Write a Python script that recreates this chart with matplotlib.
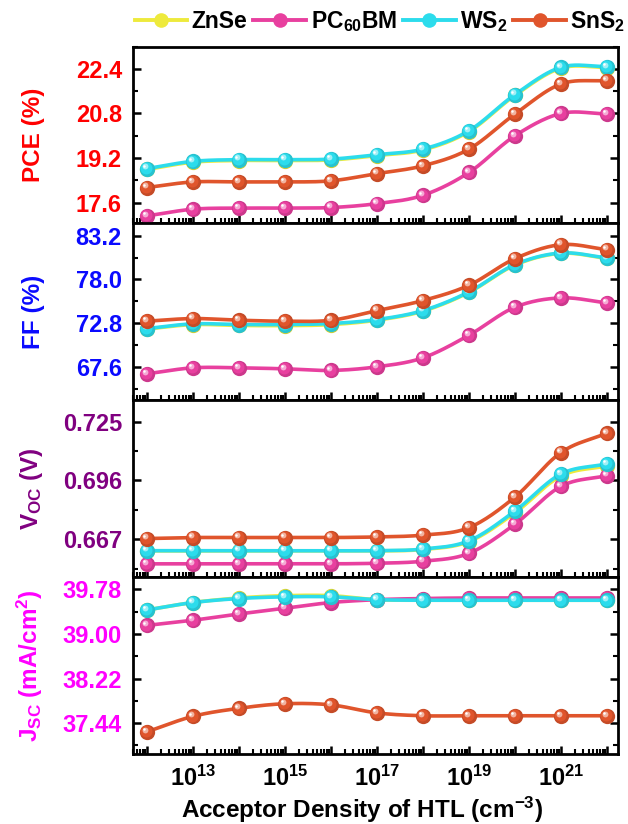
import numpy as np
import matplotlib
matplotlib.use("Agg")
import matplotlib.pyplot as plt
from matplotlib.ticker import (MultipleLocator, FuncFormatter, LogLocator,
                               NullFormatter, FormatStrFormatter)
from matplotlib.transforms import ScaledTranslation
from matplotlib.lines import Line2D

plt.rcParams["font.family"] = ["Liberation Sans", "DejaVu Sans"]
plt.rcParams["font.weight"] = "bold"
plt.rcParams["mathtext.fontset"] = "custom"
plt.rcParams["mathtext.rm"] = "Liberation Sans:bold"
plt.rcParams["mathtext.bf"] = "Liberation Sans:bold"
plt.rcParams["mathtext.it"] = "Liberation Sans:bold"
plt.rcParams["mathtext.default"] = "bf"

# ---------------- data ----------------
density = [1e12, 1e13, 1e14, 1e15, 1e16, 1e17, 1e18, 1e19, 1e20, 1e21, 1e22]
materials = ["ZnSe", "PC$_{60}$BM", "WS$_2$", "SnS$_2$"]
colors = ["#eeea3c", "#e8409f", "#2cdcec", "#e0552c"]

pce_znse = [18.79, 19.05, 19.11, 19.11, 19.13, 19.29, 19.49, 20.15, 21.45, 22.43, 22.45]
pce_pcbm = [17.12, 17.36, 17.40, 17.40, 17.42, 17.56, 17.86, 18.68, 20.00, 20.80, 20.78]
pce_ws2 = [18.82, 19.08, 19.14, 19.14, 19.16, 19.32, 19.52, 20.18, 21.48, 22.46, 22.48]
pce_sns2 = [18.14, 18.34, 18.34, 18.34, 18.38, 18.64, 18.92, 19.52, 20.78, 21.86, 21.98]

ff_znse = [72.10, 72.62, 72.52, 72.50, 72.62, 73.15, 74.22, 76.45, 79.70, 81.10, 80.50]
ff_pcbm = [66.77, 67.48, 67.48, 67.36, 67.17, 67.60, 68.67, 71.36, 74.69, 75.80, 75.20]
ff_ws2 = [72.15, 72.71, 72.63, 72.63, 72.75, 73.22, 74.29, 76.51, 79.76, 81.14, 80.55]
ff_sns2 = [73.03, 73.34, 73.14, 73.03, 73.14, 74.29, 75.48, 77.30, 80.47, 82.13, 81.54]

voc_znse = [0.6612, 0.6612, 0.6612, 0.6612, 0.6612, 0.6612, 0.6619, 0.6658, 0.6800, 0.6982, 0.7032]
voc_pcbm = [0.6548, 0.6548, 0.6548, 0.6548, 0.6548, 0.6551, 0.6561, 0.6600, 0.6744, 0.6931, 0.6984]
voc_ws2 = [0.6613, 0.6613, 0.6613, 0.6613, 0.6613, 0.6613, 0.6621, 0.6662, 0.6809, 0.6992, 0.7041]
voc_sns2 = [0.6673, 0.6678, 0.6678, 0.6678, 0.6678, 0.6681, 0.6690, 0.6727, 0.6878, 0.7098, 0.7193]

jsc_znse = [39.42, 39.55, 39.63, 39.67, 39.67, 39.60, 39.59, 39.59, 39.59, 39.59, 39.59]
jsc_pcbm = [39.15, 39.24, 39.35, 39.45, 39.55, 39.60, 39.62, 39.63, 39.63, 39.63, 39.63]
jsc_ws2 = [39.42, 39.55, 39.62, 39.65, 39.65, 39.60, 39.59, 39.59, 39.59, 39.59, 39.59]
jsc_sns2 = [37.29, 37.56, 37.70, 37.78, 37.76, 37.62, 37.57, 37.57, 37.57, 37.57, 37.57]

panels = [
    ("PCE (%)", "#ff0000", [pce_znse, pce_pcbm, pce_ws2, pce_sns2], 1.6, (16.85, 23.20), "%.1f"),
    ("FF (%)", "#0a0aff", [ff_znse, ff_pcbm, ff_ws2, ff_sns2], 5.2, (63.64, 84.66), "%.1f"),
    ("V$_{OC}$ (V)", "#800080", [voc_znse, voc_pcbm, voc_ws2, voc_sns2], 0.029, (0.6484, 0.7357), "%.3f"),
    ("J$_{SC}$ (mA/cm$^{2}$)", "#ff00ff", [jsc_znse, jsc_pcbm, jsc_ws2, jsc_sns2], 0.78, (36.91, 40.00), "%.2f"),
]

TICK_FS = 17
LABEL_FS = 17.5
LEGEND_FS = 16.5


def smooth_curve(x, y, n=24):
    """Cubic Hermite spline through the points, in log10(x)."""
    lx = np.log10(np.asarray(x, float))
    y = np.asarray(y, float)
    m = np.gradient(y, lx)
    xs, ys = [], []
    for i in range(len(lx) - 1):
        h = lx[i + 1] - lx[i]
        t = np.linspace(0, 1, n, endpoint=(i == len(lx) - 2))
        h00 = 2 * t**3 - 3 * t**2 + 1
        h10 = t**3 - 2 * t**2 + t
        h01 = -2 * t**3 + 3 * t**2
        h11 = t**3 - t**2
        xs.append(lx[i] + t * h)
        ys.append(h00 * y[i] + h10 * h * m[i] + h01 * y[i + 1] + h11 * h * m[i + 1])
    return 10 ** np.concatenate(xs), np.concatenate(ys)


def mix(c, other, f):
    a = np.array(matplotlib.colors.to_rgb(c))
    b = np.array(matplotlib.colors.to_rgb(other))
    return tuple(a * (1 - f) + b * f)


fig = plt.figure(figsize=(6.28, 8.24), dpi=100)
gs = fig.add_gridspec(4, 1, left=133 / 628, right=618 / 628,
                      top=1 - 46.7 / 824, bottom=1 - 753.5 / 824, hspace=0)
axes = [fig.add_subplot(gs[i]) for i in range(4)]


def offset(dx, dy):
    return ScaledTranslation(dx / 72, dy / 72, fig.dpi_scale_trans)


def odd_decades(v, pos):
    e = int(round(np.log10(v)))
    return ("10$^{%d}$" % e) if e % 2 == 1 else ""


for k, (ax, (label, lcol, series, step, lim, fmt)) in enumerate(zip(axes, panels)):
    for j, (vals, col) in enumerate(zip(series, colors)):
        z = 3 + j
        xs, ys = smooth_curve(density, vals)
        ax.plot(xs, ys, color=col, lw=2.6, zorder=z, solid_capstyle="round")
        # shaded spheres at the data points
        ax.plot(density, vals, "o", ms=11, mfc=mix(col, "black", 0.12), mec="none", zorder=z)
        ax.plot(density, vals, "o", ms=8.6, mfc=col, mec="none", zorder=z,
                transform=ax.transData + offset(-0.5, 0.5))
        ax.plot(density, vals, "o", ms=4.2, mfc=mix(col, "white", 0.55), mec="none", zorder=z,
                transform=ax.transData + offset(-1.6, 1.6))
        ax.plot(density, vals, "o", ms=1.8, mfc="white", mec="none", zorder=z,
                transform=ax.transData + offset(-2.0, 2.0))

    ax.set_xscale("log")
    ax.set_xlim(10 ** 11.696, 10 ** 22.24)
    ax.set_ylim(*lim)
    ax.yaxis.set_major_locator(MultipleLocator(step))
    ax.yaxis.set_minor_locator(MultipleLocator(step / 2))
    ax.yaxis.set_major_formatter(FormatStrFormatter(fmt))
    ax.xaxis.set_major_locator(LogLocator(base=10, subs=(1.0,), numticks=30))
    ax.xaxis.set_minor_locator(LogLocator(base=10, subs=np.arange(2, 10), numticks=100))
    ax.xaxis.set_minor_formatter(NullFormatter())
    if k < 3:
        ax.tick_params(axis="x", which="both", labelbottom=False)
    else:
        ax.xaxis.set_major_formatter(FuncFormatter(odd_decades))
    ax.tick_params(axis="both", which="major", direction="in", length=6, width=1.8,
                   labelsize=TICK_FS)
    ax.tick_params(axis="y", which="major", pad=8)
    ax.tick_params(axis="x", which="major", pad=9)
    ax.tick_params(axis="both", which="minor", direction="in", length=3.5, width=1.5)
    ax.tick_params(axis="y", which="both", right=True)
    ax.tick_params(axis="y", labelcolor=lcol)
    ax.tick_params(axis="x", which="both", top=False)
    for s in ax.spines.values():
        s.set_linewidth(2.0)
    ax.set_ylabel(label, color=lcol, fontsize=LABEL_FS, fontweight="bold")
    ax.yaxis.set_label_coords(-0.181, 0.5)

axes[-1].set_xlabel("Acceptor Density of HTL (cm$^{-3}$)", fontsize=LABEL_FS, fontweight="bold")
axes[-1].xaxis.set_label_coords(0.472, -0.232)

handles = [Line2D([], [], color=c, lw=2.8, marker="o", ms=10.5,
                  mfc=c, mec="none") for c in colors]
fig.legend(handles, materials, loc="center", bbox_to_anchor=(380 / 628, 1 - 21.7 / 824),
           ncol=4, frameon=False, fontsize=LEGEND_FS, handlelength=2.3, handletextpad=0.2,
           columnspacing=0.25, borderpad=0, borderaxespad=0)

fig.savefig("out.png", dpi=100)
